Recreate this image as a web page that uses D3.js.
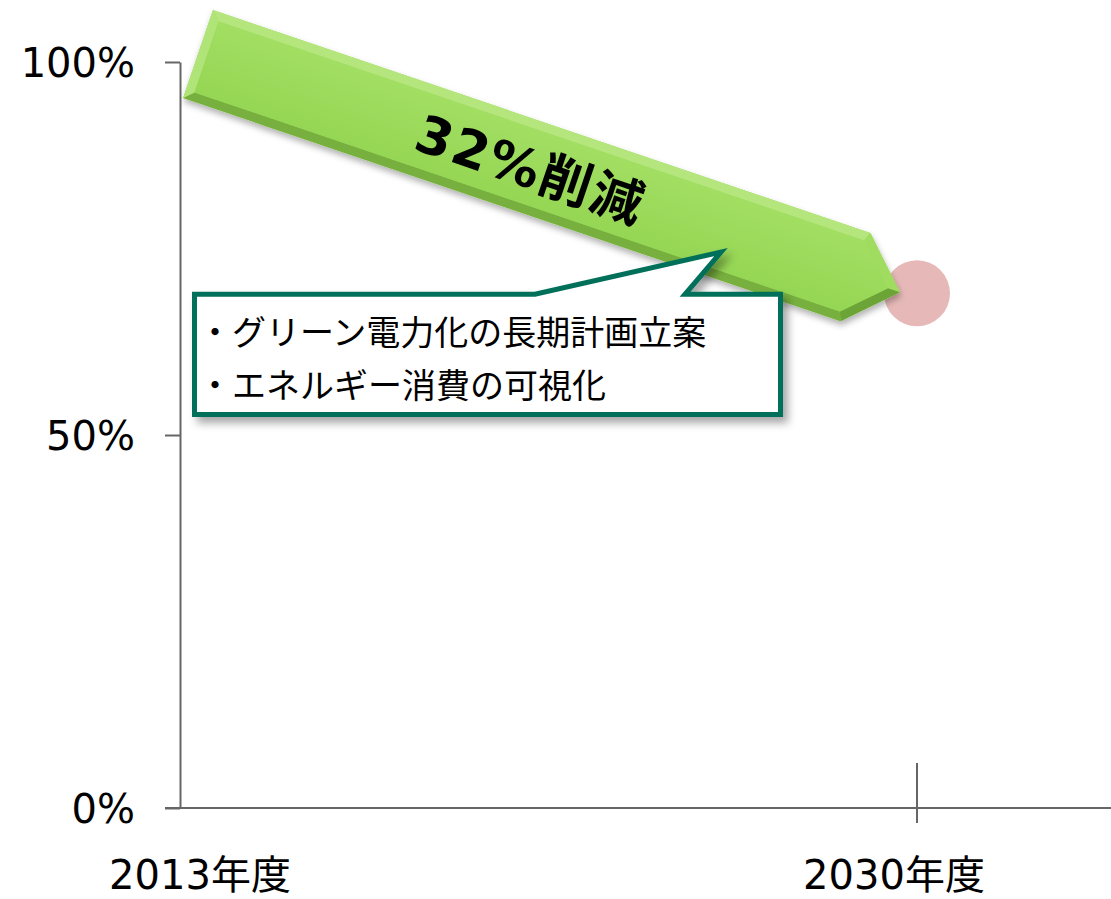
<!DOCTYPE html>
<html>
<head>
<meta charset="utf-8">
<script src="https://cdn.jsdelivr.net/npm/d3@7.9.0/dist/d3.min.js"></script>
<style>
  html, body { margin: 0; padding: 0; background: #fff; }
  svg { display: block; }
  text { font-family: "DejaVu Sans", "Noto Sans CJK JP", sans-serif; fill: #000; }
</style>
</head>
<body>
<svg id="chart" width="1111" height="899"></svg>
<script>
// data
const years = [2013, 2030];
const yearLabels = ["2013年度", "2030年度"];
const shares = [1.0, 0.69];          // emission level vs. 2013
const yTicks = [0, 0.5, 1];
const reductionLabel = "32%削減";
const noteLines = ["・グリーン電力化の長期計画立案", "・エネルギー消費の可視化"];

const width = 1111, height = 899;
const svg = d3.select("#chart");

// scales
const x = d3.scaleLinear().domain([2013, 2030]).range([180, 917]);
const y = d3.scaleLinear().domain([0, 1]).range([808, 62]);

const defs = svg.append("defs");
defs.append("filter").attr("id", "arrowShadow")
    .attr("x", "-10%").attr("y", "-20%").attr("width", "120%").attr("height", "140%")
  .append("feDropShadow")
    .attr("dx", 1).attr("dy", 4).attr("stdDeviation", 3)
    .attr("flood-color", "#000").attr("flood-opacity", 0.3);
defs.append("filter").attr("id", "boxShadow")
    .attr("x", "-10%").attr("y", "-20%").attr("width", "120%").attr("height", "150%")
  .append("feDropShadow")
    .attr("dx", 5).attr("dy", 6).attr("stdDeviation", 4)
    .attr("flood-color", "#000").attr("flood-opacity", 0.35);

// **y axis**
const yAxis = svg.append("g")
    .attr("transform", `translate(${x(2013)},0)`)
    .call(d3.axisLeft(y).tickValues(yTicks).tickFormat(d3.format(".0%"))
        .tickSize(15).tickPadding(30).tickSizeOuter(0));
yAxis.select(".domain").attr("stroke", "#666").attr("stroke-width", 2);
yAxis.selectAll(".tick line").attr("stroke", "#666").attr("stroke-width", 2);
yAxis.selectAll(".tick text")
    .attr("font-size", 40).attr("font-family", "DejaVu Sans").attr("fill", "#000")
    .attr("dy", "0.36em");

// **x axis**
svg.append("line")
    .attr("x1", x(2013) - 15).attr("x2", width)
    .attr("y1", y(0)).attr("y2", y(0))
    .attr("stroke", "#666").attr("stroke-width", 2);
svg.append("line")
    .attr("x1", x(2030)).attr("x2", x(2030))
    .attr("y1", y(0) - 45).attr("y2", y(0) + 15)
    .attr("stroke", "#666").attr("stroke-width", 2);
svg.selectAll(".xlabel").data(years).join("text")
    .attr("class", "xlabel")
    .attr("x", (d, i) => x(d) + (i === 0 ? 20 : -23))
    .attr("y", y(0) + 81)
    .attr("text-anchor", "middle")
    .attr("font-size", 40)
    .text((d, i) => yearLabels[i]);

// **target point**
svg.append("circle")
    .attr("cx", x(years[1])).attr("cy", y(shares[1]))
    .attr("r", 33)
    .attr("fill", "#E6B9B8");

// **arrow from 2013 level to 2030 target**
const tail = [x(years[0]) + 18, y(shares[0]) - 8];
const tip = [x(years[1]) - 17, y(shares[1]) - 1];
const dx = tip[0] - tail[0], dy = tip[1] - tail[1];
const len = Math.hypot(dx, dy);
const ux = dx / len, uy = dy / len;     // along arrow
const nx = -uy, ny = ux;                // across (downwards)
const half = 46.5, headLen = 47;
const toGlobal = ([a, b]) => [tail[0] + ux * a + nx * b, tail[1] + uy * a + ny * b];
const outer = [[0, -half], [len - headLen, -half], [len, 0], [len - headLen, half], [0, half]].map(toGlobal);

// inset polygon for the bevel
function inset(pts, d) {
    const n = pts.length;
    const lines = pts.map((p, i) => {
        const q = pts[(i + 1) % n];
        const ex = q[0] - p[0], ey = q[1] - p[1];
        const l = Math.hypot(ex, ey);
        const ix = -ey / l, iy = ex / l;
        return { p: [p[0] + ix * d, p[1] + iy * d], e: [ex, ey] };
    });
    return pts.map((_, i) => {
        const a = lines[(i - 1 + n) % n], b = lines[i];
        const det = a.e[0] * b.e[1] - a.e[1] * b.e[0];
        const t = ((b.p[0] - a.p[0]) * b.e[1] - (b.p[1] - a.p[1]) * b.e[0]) / det;
        return [a.p[0] + a.e[0] * t, a.p[1] + a.e[1] * t];
    });
}
const inner = inset(outer, 9);

const base = "#9BDB5A";
const light = [-0.35, -0.94];
const arrowG = svg.append("g").attr("filter", "url(#arrowShadow)");
arrowG.append("path")
    .attr("d", d3.line()(outer) + "Z")
    .attr("fill", base);
outer.forEach((p, i) => {
    const q = outer[(i + 1) % outer.length];
    const ex = q[0] - p[0], ey = q[1] - p[1];
    const l = Math.hypot(ex, ey);
    const shade = (ey / l) * light[0] + (-ex / l) * light[1];
    const col = shade > 0
        ? d3.interpolateRgb(base, "#D2F2A8")(shade * 0.6)
        : d3.interpolateRgb(base, "#4F7F22")(-shade * 0.6);
    arrowG.append("path")
        .attr("d", d3.line()([p, q, inner[(i + 1) % inner.length], inner[i]]) + "Z")
        .attr("fill", col);
});
const faceGrad = defs.append("linearGradient").attr("id", "faceGrad")
    .attr("gradientUnits", "userSpaceOnUse")
    .attr("x1", toGlobal([0, -half])[0]).attr("y1", toGlobal([0, -half])[1])
    .attr("x2", toGlobal([0, half])[0]).attr("y2", toGlobal([0, half])[1]);
faceGrad.append("stop").attr("offset", 0).attr("stop-color", "#A3DF64");
faceGrad.append("stop").attr("offset", 1).attr("stop-color", "#94D552");
arrowG.append("path")
    .attr("d", d3.line()(inner) + "Z")
    .attr("fill", "url(#faceGrad)");

const angle = Math.atan2(dy, dx) * 180 / Math.PI;
const labelPos = toGlobal([352, 2]);
svg.append("text")
    .attr("transform", `translate(${labelPos[0]},${labelPos[1]}) rotate(${angle})`)
    .attr("text-anchor", "middle")
    .attr("dy", "0.36em")
    .attr("font-size", 52)
    .attr("font-weight", "bold")
    .attr("letter-spacing", 2)
    .text(reductionLabel);

// **callout box**
const box = { left: 194.5, top: y(shares[1]) + 1, right: 780.5, bottom: 414.5 };
const pointer = { b1: 535, b2: 685, tip: [721, 252] };
const callout = d3.path();
callout.moveTo(box.left, box.top);
callout.lineTo(pointer.b1, box.top);
callout.lineTo(pointer.tip[0], pointer.tip[1]);
callout.lineTo(pointer.b2, box.top);
callout.lineTo(box.right, box.top);
callout.lineTo(box.right, box.bottom);
callout.lineTo(box.left, box.bottom);
callout.closePath();
svg.append("path")
    .attr("d", callout.toString())
    .attr("fill", "#fff")
    .attr("stroke", "#00705A")
    .attr("stroke-width", 5)
    .attr("stroke-linejoin", "miter")
    .attr("filter", "url(#boxShadow)");

svg.selectAll(".note").data(noteLines).join("text")
    .attr("class", "note")
    .attr("x", 198)
    .attr("y", (d, i) => 345 + i * 53)
    .attr("font-family", "Noto Sans CJK JP")
    .attr("font-size", 34)
    .text(d => d);
</script>
</body>
</html>
